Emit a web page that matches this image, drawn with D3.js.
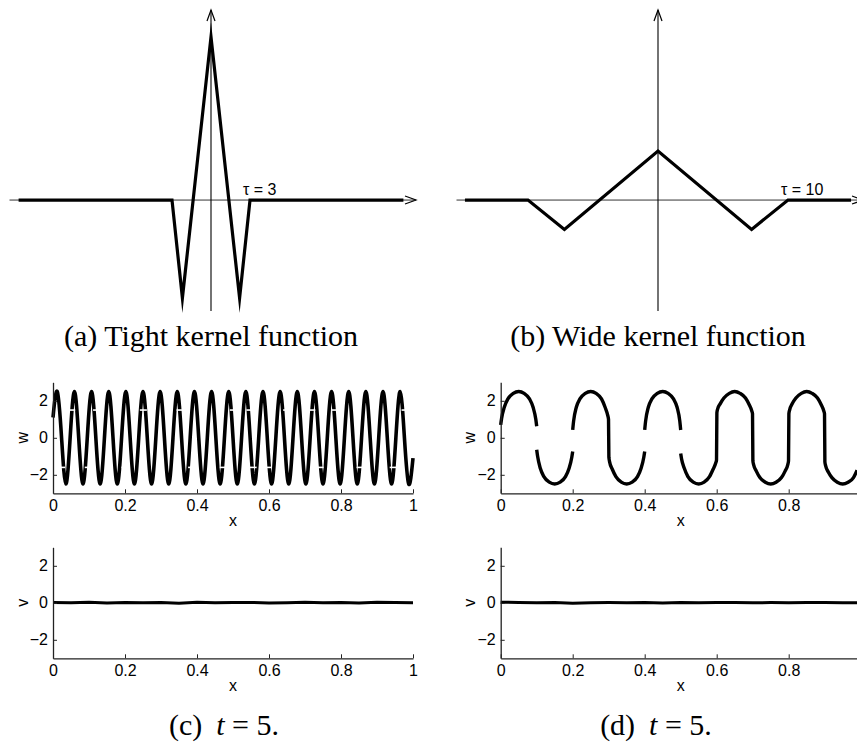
<!DOCTYPE html>
<html>
<head>
<meta charset="utf-8">
<script src="https://cdn.jsdelivr.net/npm/d3@7"></script>
<style>
    body { margin: 0; background: #fff; }
    svg { display: block; }
    .tick text { font-family: "Liberation Sans", Arial, sans-serif; font-size: 16px; fill: #000; }
    .lbl { font-family: "Liberation Sans", Arial, sans-serif; font-size: 16px; }
    .caption { font-family: "Liberation Serif", "Times New Roman", serif; font-size: 30px; }
</style>
</head>
<body>
<div id="chart"></div>
<script>
// ---- top row: kernel functions (x in kernel units, y in kernel amplitude)
const tightX = [-14.8, -3, -2.2, 0, 2.2, 3, 14.8];
const tightY = [0, 0, -0.2, 0.333, -0.2, 0, 0];
const wideX = [-14.85, -10, -7.2, 0, 7.2, 10, 14.85];
const wideY = [0, 0, -0.06, 0.1, -0.06, 0, 0];
const tauValues = [3, 10];
const kernelXDomain = [-15.5, 15.77];
const kernelYDomain = [-0.2265, 0.388];
const kernelCaptions = ["(a)  Tight kernel function", "(b)  Wide kernel function"];

// ---- bottom rows: w and v at t = 5
const xTicks = [0, 0.2, 0.4, 0.6, 0.8, 1];
const yTicks = [-2, 0, 2];
const panelLetters = ["(c)", "(d)"];

// (c) w: start, then alternating extrema / crossings
const cWaveX = [0, .0119, .0238, .0357, .0476, .0595, .0714, .0833, .0952, .1071, .1190, .1310, .1429, .1548,
    .1667, .1786, .1905, .2024, .2143, .2262, .2381, .25, .2619, .2738, .2857, .2976, .3095, .3214, .3333,
    .3452, .3571, .3690, .3810, .3929, .4048, .4167, .4286, .4405, .4524, .4643, .4762, .4881, .5, .5119,
    .5238, .5357, .5476, .5595, .5714, .5833, .5952, .6071, .6190, .6310, .6429, .6548, .6667, .6786, .6905,
    .7024, .7143, .7262, .7381, .75, .7619, .7738, .7857, .7976, .8095, .8214, .8333, .8452, .8571, .8690,
    .8810, .8929, .9048, .9167, .9286, .9405, .9524, .9643, .9762, .9881, 1];
const cWaveW = [1.1, 2.5, 0, -2.5, 0, 2.5, 0, -2.5, 0, 2.5, 0, -2.5, 0, 2.5,
    0, -2.5, 0, 2.5, 0, -2.5, 0, 2.5, 0, -2.5, 0, 2.5, 0, -2.5, 0,
    2.5, 0, -2.5, 0, 2.5, 0, -2.5, 0, 2.5, 0, -2.5, 0, 2.5, 0, -2.5,
    0, 2.5, 0, -2.5, 0, 2.5, 0, -2.5, 0, 2.5, 0, -2.5, 0, 2.5, 0,
    -2.5, 0, 2.5, 0, -2.5, 0, 2.5, 0, -2.5, 0, 2.5, 0, -2.5, 0, 2.5,
    0, -2.5, 0, 2.5, 0, -2.5, 0, 2.5, 0, -2.5, -1.1];
// small white breaks in the (c) curve
const cNotchX = [0.052, 0.121, 0.251, 0.353, 0.501, 0.547, 0.649, 0.719, 0.783, 0.978,
    0.024, 0.098, 0.2, 0.297, 0.385, 0.473, 0.556, 0.598, 0.742, 0.853, 0.945];
const cNotchW = [1.5, 1.5, 1.5, 1.5, 1.5, 1.5, 1.5, 1.5, 1.5, 1.5,
    -1.6, -1.6, -1.6, -1.6, -1.6, -1.6, -1.6, -1.6, -1.6, -1.6, -1.6];

// (d) w: half-wave arcs, null = break in the curve
const dWaveX = [
    0, .0025, .01, .02, .035, .05, .065, .08, .09, .0975, .1, .1,
    .1, .1025, .11, .12, .135, .15, .165, .18, .19, .1975, .2, .2,
    .2, .2025, .21, .22, .235, .25, .265, .28, .29, .2975, .2995,
    .3005, .3025, .31, .32, .335, .35, .365, .38, .39, .3975, .4, .4,
    .4, .4025, .41, .42, .435, .45, .465, .48, .49, .4975, .5, .5,
    .5, .5025, .51, .52, .535, .55, .565, .58, .59, .5975, .5995,
    .6005, .6025, .61, .62, .635, .65, .665, .68, .69, .6975, .6995,
    .7005, .7025, .71, .72, .735, .75, .765, .78, .79, .7975, .7995,
    .8005, .8025, .81, .82, .835, .85, .865, .88, .89, .8975, .8995,
    .9005, .9025, .91, .92, .935, .95, .965, .98, .99];
const dWaveW = [
    0.7, 1.05, 1.65, 2.1, 2.4, 2.5, 2.4, 2.1, 1.65, 1.0, 0.62, null,
    -0.65, -1.0, -1.65, -2.1, -2.4, -2.5, -2.4, -2.1, -1.65, -1.05, -0.74, null,
    0.43, 0.9, 1.65, 2.1, 2.4, 2.5, 2.4, 2.1, 1.65, 1.2, 1.0,
    -1.05, -1.3, -1.7, -2.1, -2.4, -2.5, -2.4, -2.1, -1.65, -1.05, -0.74, null,
    0.43, 0.9, 1.65, 2.1, 2.4, 2.5, 2.4, 2.1, 1.65, 0.9, 0.42, null,
    -0.85, -1.15, -1.65, -2.1, -2.4, -2.5, -2.4, -2.1, -1.7, -1.35, -1.2,
    1.35, 1.55, 1.85, 2.15, 2.4, 2.5, 2.4, 2.15, 1.8, 1.45, 1.3,
    -1.25, -1.45, -1.8, -2.15, -2.4, -2.5, -2.4, -2.15, -1.8, -1.45, -1.25,
    1.3, 1.5, 1.85, 2.15, 2.4, 2.5, 2.4, 2.15, 1.8, 1.45, 1.3,
    -1.3, -1.5, -1.85, -2.15, -2.4, -2.5, -2.4, -2.15, -1.75];

// v is nearly flat at t = 5
const vX = [0, 0.05, 0.1, 0.15, 0.2, 0.25, 0.3, 0.35, 0.4, 0.45, 0.5, 0.55, 0.6, 0.65, 0.7, 0.75, 0.8, 0.85, 0.9, 0.95, 1];
const cV = [0.02, 0.0, 0.03, -0.01, 0.02, 0.0, 0.01, -0.02, 0.03, 0.0, 0.01, 0.02, -0.01, 0.0, 0.03, 0.0, 0.01, -0.01, 0.03, 0.01, 0.0];
const dV = [0.03, 0.02, 0.0, 0.01, -0.02, 0.0, 0.01, 0.0, 0.02, -0.01, 0.01, 0.0, 0.01, 0.02, 0.0, 0.01, 0.0, 0.01, 0.02, 0.0, 0.01];

const W = 857, H = 744;
const svg = d3.select("#chart").append("svg").attr("width", W).attr("height", H);
svg.append("rect").attr("width", W).attr("height", H).attr("fill", "#fff");

// open arrow head for the kernel axes
svg.append("defs").append("marker")
    .attr("id", "arrow")
    .attr("viewBox", "-12 -6 14 12")
    .attr("refX", 0).attr("refY", 0)
    .attr("markerWidth", 14).attr("markerHeight", 12)
    .attr("markerUnits", "userSpaceOnUse")
    .attr("orient", "auto")
    .append("path")
    .attr("d", "M-11,-4L0,0L-11,4")
    .attr("fill", "none")
    .attr("stroke", "#000")
    .attr("stroke-width", 1.2);

function kernelPanel(cx, kx, ky, tau, caption) {
    let unit = 13;
    let x = d3.scaleLinear().domain(kernelXDomain)
        .range([cx + kernelXDomain[0] * unit, cx + kernelXDomain[1] * unit]);
    let y = d3.scaleLinear().domain(kernelYDomain).range([311, 10]);
    let g = svg.append("g");

    // axes
    g.append("line")
        .attr("x1", x(kernelXDomain[0])).attr("x2", x(kernelXDomain[1]))
        .attr("y1", y(0)).attr("y2", y(0))
        .attr("stroke", "#333").attr("stroke-width", 1)
        .attr("marker-end", "url(#arrow)");
    g.append("line")
        .attr("x1", x(0)).attr("x2", x(0))
        .attr("y1", y(kernelYDomain[0])).attr("y2", y(kernelYDomain[1]))
        .attr("stroke", "#000").attr("stroke-width", 1.1)
        .attr("marker-end", "url(#arrow)");

    let pts = kx.map((d, i) => [d, ky[i]]);
    g.append("path")
        .datum(pts)
        .attr("d", d3.line().x(d => x(d[0])).y(d => y(d[1])))
        .attr("fill", "none")
        .attr("stroke", "#000")
        .attr("stroke-width", 3.2)
        .attr("stroke-linejoin", "miter")
        .attr("stroke-miterlimit", 20);

    g.append("text")
        .attr("class", "lbl")
        .attr("x", x(tau) - 7)
        .attr("y", y(0) - 5)
        .text("τ = " + tau);

    g.append("text")
        .attr("class", "caption")
        .attr("x", cx)
        .attr("y", 346)
        .attr("text-anchor", "middle")
        .text(caption);
}

function signalPanel(left, top, yName, xs, ys, curve, width) {
    let x = d3.scaleLinear().domain([0, 1]).range([left, left + 360]);
    let y = d3.scaleLinear().domain([-3, 3]).range([top + 111, top]);
    let g = svg.append("g");

    let pts = xs.map((d, i) => [d, ys[i]]);
    g.append("path")
        .datum(pts)
        .attr("d", d3.line()
            .defined(d => d[1] !== null)
            .curve(curve)
            .x(d => x(d[0])).y(d => y(d[1])))
        .attr("fill", "none")
        .attr("stroke", "#000")
        .attr("stroke-width", width)
        .attr("stroke-linejoin", "round");

    let yAxis = g.append("g")
        .attr("transform", "translate(" + left + ",0)")
        .call(d3.axisLeft(y).tickValues(yTicks).tickSize(-4).tickSizeOuter(0).tickPadding(5)
            .tickFormat(d3.format("~g")));
    let xAxis = g.append("g")
        .attr("transform", "translate(0," + (top + 111) + ")")
        .call(d3.axisBottom(x).tickValues(xTicks).tickSize(-4).tickSizeOuter(0).tickPadding(6)
            .tickFormat(d3.format("~g")));
    [yAxis, xAxis].forEach(a => {
        a.select(".domain").attr("stroke", "#222").attr("stroke-width", 1.3);
        a.selectAll(".tick line").attr("stroke", "#222").attr("stroke-width", 1);
    });

    g.append("text")
        .attr("class", "lbl")
        .attr("x", x(0.5))
        .attr("y", top + 111 + 33)
        .attr("text-anchor", "middle")
        .text("x");
    g.append("text")
        .attr("class", "lbl")
        .attr("transform", "translate(" + (left - 31) + "," + y(0) + ") rotate(-90)")
        .attr("text-anchor", "middle")
        .attr("dy", "0.35em")
        .text(yName);

    return {g: g, x: x, y: y};
}

// top row
kernelPanel(211, tightX, tightY, tauValues[0], kernelCaptions[0]);
kernelPanel(658, wideX, wideY, tauValues[1], kernelCaptions[1]);

// bottom rows
let cw = signalPanel(53, 382.3, "w", cWaveX, cWaveW, d3.curveNatural, 3.6);
cNotchX.forEach((nx, i) => {
    cw.g.append("line")
        .attr("x1", cw.x(nx) - 3.5).attr("x2", cw.x(nx) + 3.5)
        .attr("y1", cw.y(cNotchW[i])).attr("y2", cw.y(cNotchW[i]))
        .attr("stroke", "#fff").attr("stroke-width", 1.6);
});
signalPanel(500.7, 382.3, "w", dWaveX, dWaveW, d3.curveMonotoneX, 3.4);
signalPanel(53, 547.3, "v", vX, cV, d3.curveLinear, 3);
signalPanel(500.7, 547.3, "v", vX, dV, d3.curveLinear, 3);

// captions (c), (d)
[224, 656].forEach((cx, i) => {
    let t = svg.append("text")
        .attr("class", "caption")
        .attr("x", cx)
        .attr("y", 735)
        .attr("text-anchor", "middle");
    t.append("tspan").text(panelLetters[i]);
    t.append("tspan").attr("dx", 14).attr("font-style", "italic").text("t");
    t.append("tspan").text(" = 5.");
});
</script>
</body>
</html>
